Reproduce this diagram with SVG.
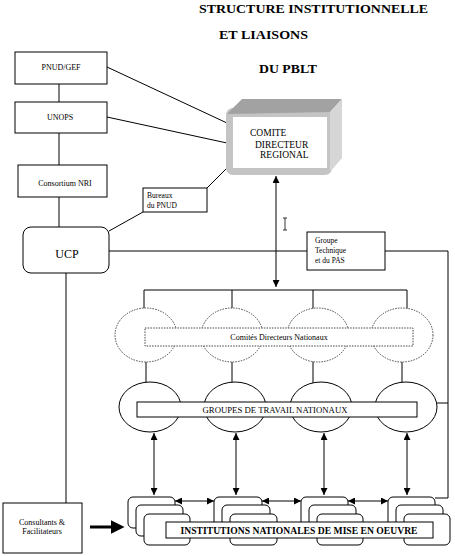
<svg xmlns="http://www.w3.org/2000/svg" width="455" height="556" viewBox="0 0 455 556">
<defs>
<style>
.bx{fill:#fff;stroke:#000;stroke-width:1}
.ln{fill:none;stroke:#000;stroke-width:1}
.dot{fill:#fff;stroke:#444;stroke-width:1;stroke-dasharray:1.5 1.2}
.t{font-family:"Liberation Serif","Times New Roman",serif;fill:#000}
.s8{font-size:8px}
.ttl{font-size:13px;font-weight:bold}
</style>
<marker id="ah" viewBox="0 0 8 8" refX="8" refY="4" markerWidth="7" markerHeight="7" markerUnits="userSpaceOnUse" orient="auto-start-reverse">
<path d="M0,0 L8,4 L0,8 z" fill="#000"/>
</marker>
<marker id="big" viewBox="0 0 10 10" refX="1" refY="5" markerWidth="14" markerHeight="14" markerUnits="userSpaceOnUse" orient="auto">
<path d="M0,0 L10,5 L0,10 z" fill="#000"/>
</marker>
</defs>
<rect width="455" height="556" fill="#fff"/>

<g id="title" class="t ttl">
<text x="199" y="13" textLength="229" lengthAdjust="spacingAndGlyphs">STRUCTURE INSTITUTIONNELLE</text>
<text x="219" y="39" textLength="89" lengthAdjust="spacingAndGlyphs">ET LIAISONS</text>
<text x="259" y="73" textLength="58" lengthAdjust="spacingAndGlyphs">DU PBLT</text>
</g>

<g id="connectors">
<line class="ln" x1="59" y1="84" x2="59" y2="102"/>
<line class="ln" x1="59" y1="133" x2="59" y2="165"/>
<line class="ln" x1="59" y1="197" x2="59" y2="227"/>
<line class="ln" x1="107" y1="67" x2="227" y2="123"/>
<line class="ln" x1="107" y1="117" x2="227" y2="143"/>
<line class="ln" x1="109" y1="231" x2="143" y2="212"/>
<line class="ln" x1="207" y1="188" x2="227" y2="168"/>
<line class="ln" x1="109" y1="251" x2="307" y2="251"/>
<polyline class="ln" points="385,251 448,251 448,498 435,498"/>
<line class="ln" x1="437" y1="403" x2="448" y2="403"/>
<line class="ln" x1="66" y1="273" x2="66" y2="503"/>
<line class="ln" x1="276" y1="176" x2="276" y2="287" marker-start="url(#ah)" marker-end="url(#ah)"/>
<polyline class="ln" points="144,310 144,290 407,290 407,310"/>
<line class="ln" x1="232" y1="290" x2="232" y2="309"/>
<line class="ln" x1="313" y1="290" x2="313" y2="309"/>
<line class="ln" x1="146" y1="361" x2="146" y2="383"/>
<line class="ln" x1="232" y1="361" x2="232" y2="383"/>
<line class="ln" x1="313" y1="361" x2="313" y2="383"/>
<line class="ln" x1="402" y1="361" x2="402" y2="383"/>
<line class="ln" x1="154" y1="433" x2="154" y2="495" marker-start="url(#ah)" marker-end="url(#ah)"/>
<line class="ln" x1="236" y1="433" x2="236" y2="495" marker-start="url(#ah)" marker-end="url(#ah)"/>
<line class="ln" x1="324" y1="433" x2="324" y2="495" marker-start="url(#ah)" marker-end="url(#ah)"/>
<line class="ln" x1="407" y1="433" x2="407" y2="495" marker-start="url(#ah)" marker-end="url(#ah)"/>
<line class="ln" x1="175" y1="501" x2="214" y2="501" marker-start="url(#ah)" marker-end="url(#ah)"/>
<line class="ln" x1="262" y1="501" x2="301" y2="501" marker-start="url(#ah)" marker-end="url(#ah)"/>
<line class="ln" x1="348" y1="501" x2="388" y2="501" marker-start="url(#ah)" marker-end="url(#ah)"/>
<line x1="90" y1="527" x2="112" y2="527" stroke="#000" stroke-width="3" marker-end="url(#big)"/>
<path d="M283,218 h4 M285,218 v12 M283,230 h4" fill="none" stroke="#000" stroke-width="0.8"/>
</g>

<g id="pnud-gef">
<rect class="bx" x="15" y="52" width="92" height="32"/>
<text class="t s8" x="61" y="70" text-anchor="middle">PNUD/GEF</text>
</g>
<g id="unops">
<rect class="bx" x="15" y="102" width="92" height="31"/>
<text class="t s8" x="60" y="120" text-anchor="middle">UNOPS</text>
</g>
<g id="consortium">
<rect class="bx" x="18" y="165" width="89" height="32"/>
<text class="t s8" x="65" y="186" text-anchor="middle">Consortium NRI</text>
</g>
<g id="ucp">
<rect class="bx" x="23" y="227" width="86" height="46" rx="8"/>
<text class="t" x="67" y="258" font-size="12" text-anchor="middle">UCP</text>
</g>
<g id="bureaux">
<rect class="bx" x="143" y="188" width="64" height="24"/>
<text class="t" x="147" y="198" font-size="7.5">Bureaux</text>
<text class="t" x="147" y="208" font-size="7.5">du PNUD</text>
</g>
<g id="comite">
<rect x="226" y="108" width="106" height="67" rx="7" fill="#c4c4c4"/>
<polygon points="227,114 242,99 342,99 330,112" fill="#a2a2a2"/>
<polygon points="330,112 342,99 342,158 330,172" fill="#d6d6d6"/>
<rect x="233" y="117" width="94" height="51" fill="#fff"/>
<text class="t" x="250" y="136" font-size="9.5">COMITE</text>
<text class="t" x="255" y="148" font-size="9.5">DIRECTEUR</text>
<text class="t" x="260" y="158" font-size="9.5">REGIONAL</text>
</g>
<g id="groupe-technique">
<rect class="bx" x="307" y="232" width="78" height="38"/>
<text class="t" x="315" y="243" font-size="7.5">Groupe</text>
<text class="t" x="315" y="253" font-size="7.5">Technique</text>
<text class="t" x="315" y="263" font-size="7.5">et du PAS</text>
</g>
<g id="consultants">
<rect class="bx" x="3" y="503" width="79" height="50"/>
<text class="t s8" x="42" y="525" text-anchor="middle">Consultants &amp;</text>
<text class="t s8" x="42" y="534" text-anchor="middle">Facilitateurs</text>
</g>
<g id="comites-nationaux">
<ellipse class="dot" cx="146" cy="335" rx="31" ry="27"/>
<ellipse class="dot" cx="232" cy="335" rx="31" ry="27"/>
<ellipse class="dot" cx="318" cy="335" rx="31" ry="27"/>
<ellipse class="dot" cx="402" cy="335" rx="31" ry="27"/>
<rect class="dot" x="145" y="328" width="268" height="18"/>
<text class="t s8" x="279" y="340" text-anchor="middle">Comités Directeurs Nationaux</text>
</g>
<g id="groupes-travail">
<ellipse class="bx" cx="150" cy="407" rx="31" ry="25"/>
<ellipse class="bx" cx="235" cy="407" rx="31" ry="25"/>
<ellipse class="bx" cx="321" cy="407" rx="31" ry="25"/>
<ellipse class="bx" cx="406" cy="407" rx="31" ry="25"/>
<rect class="bx" x="137" y="402" width="280" height="15"/>
<text class="t" x="275" y="413" font-size="9" text-anchor="middle" textLength="145" lengthAdjust="spacingAndGlyphs">GROUPES DE TRAVAIL NATIONAUX</text>
</g>
<g id="institutions">
<rect class="bx" x="128" y="497" width="47" height="31" rx="5"/>
<rect class="bx" x="136" y="505" width="47" height="31" rx="5"/>
<rect class="bx" x="144" y="514" width="46" height="31" rx="5"/>
<rect class="bx" x="214" y="497" width="48" height="31" rx="5"/>
<rect class="bx" x="222" y="505" width="48" height="31" rx="5"/>
<rect class="bx" x="230" y="514" width="47" height="31" rx="5"/>
<rect class="bx" x="301" y="497" width="47" height="31" rx="5"/>
<rect class="bx" x="309" y="505" width="47" height="31" rx="5"/>
<rect class="bx" x="317" y="514" width="46" height="31" rx="5"/>
<rect class="bx" x="388" y="497" width="47" height="31" rx="5"/>
<rect class="bx" x="396" y="505" width="47" height="31" rx="5"/>
<rect class="bx" x="404" y="514" width="46" height="31" rx="5"/>
<rect class="bx" x="166" y="522" width="267" height="16"/>
<text class="t" x="299" y="534" font-size="9.5" font-weight="bold" text-anchor="middle" textLength="237" lengthAdjust="spacingAndGlyphs">INSTITUTIONS NATIONALES DE MISE EN OEUVRE</text>
</g>
</svg>
